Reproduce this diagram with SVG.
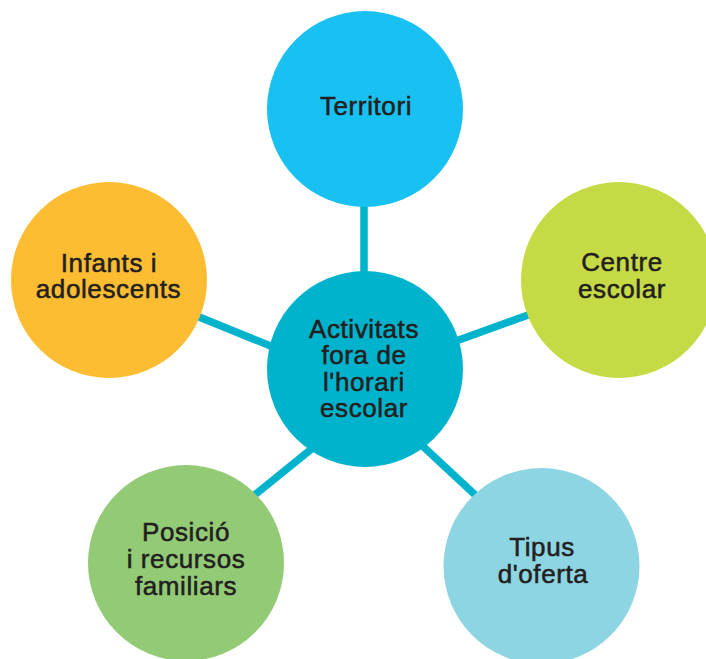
<svg xmlns="http://www.w3.org/2000/svg" width="706" height="659" viewBox="0 0 706 659">
<style>
.lbl{font-family:"Liberation Sans",Arial,Helvetica,sans-serif;font-size:26px;letter-spacing:0.6px;fill:#231f20;stroke:#231f20;stroke-width:0.55px;text-anchor:middle}
.conn{stroke:#00b3cd;stroke-width:7.5;fill:none}
</style>
<rect width="706" height="659" fill="#ffffff"/>
<g id="connectors">
<line class="conn" x1="364" y1="180" x2="364" y2="300"/>
<line class="conn" x1="420" y1="354" x2="570" y2="300"/>
<line class="conn" x1="150" y1="297" x2="300" y2="358"/>
<line class="conn" x1="220" y1="523" x2="330" y2="434"/>
<line class="conn" x1="400" y1="425" x2="500" y2="518"/>
</g>
<g id="territori">
<circle cx="365" cy="109" r="98" fill="#18c1f2"/>
<text class="lbl" x="366" y="115">Territori</text>
</g>
<g id="centre-escolar">
<circle cx="619" cy="280" r="98" fill="#c5da45"/>
<text class="lbl" x="622" y="271">Centre</text>
<text class="lbl" x="622" y="297.5">escolar</text>
</g>
<g id="infants">
<circle cx="109" cy="280" r="98" fill="#fdbd33"/>
<text class="lbl" x="109" y="271.7">Infants i</text>
<text class="lbl" x="108.5" y="297.7">adolescents</text>
</g>
<g id="activitats">
<circle cx="365" cy="369" r="98" fill="#00b3cd"/>
<text class="lbl" x="364" y="337.7">Activitats</text>
<text class="lbl" x="364" y="364.3">fora de</text>
<text class="lbl" x="364" y="390.7">l'horari</text>
<text class="lbl" x="364" y="417.3">escolar</text>
</g>
<g id="posicio">
<circle cx="186" cy="563" r="98" fill="#93ca76"/>
<text class="lbl" x="186" y="541">Posició</text>
<text class="lbl" x="186" y="568.3">i recursos</text>
<text class="lbl" x="186" y="595">familiars</text>
</g>
<g id="tipus">
<circle cx="541.5" cy="566" r="98" fill="#8dd5e3"/>
<text class="lbl" x="542" y="556">Tipus</text>
<text class="lbl" x="543" y="583.3">d'oferta</text>
</g>
</svg>
